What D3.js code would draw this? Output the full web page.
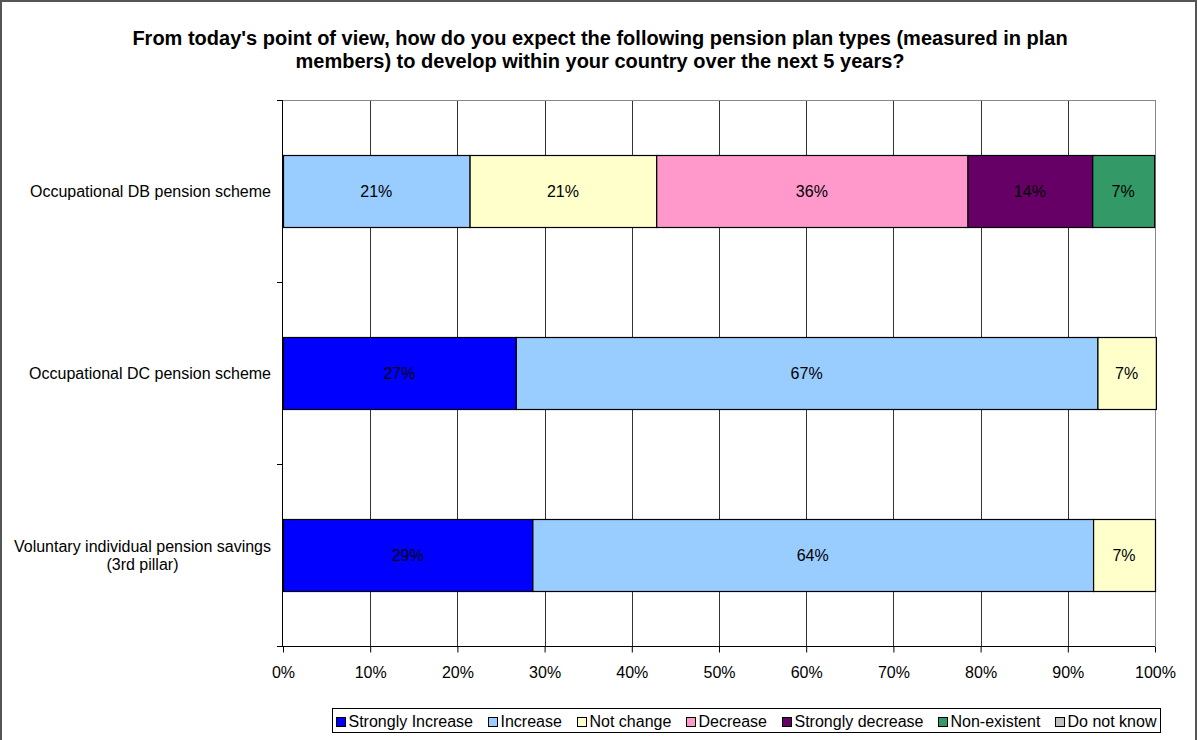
<!DOCTYPE html>
<html>
<head>
<meta charset="utf-8">
<script src="https://cdn.jsdelivr.net/npm/d3@7"></script>
<style>
  html, body { margin: 0; padding: 0; background: #fff; }
  svg { display: block; font-family: "Liberation Sans", Arial, sans-serif; }
</style>
</head>
<body>
<svg id="chart" width="1198" height="740"></svg>
<script>
// Plan types (top to bottom) and share of answers per expectation, in percent
const categories = [
  "Occupational DB pension scheme",
  "Occupational DC pension scheme",
  "Voluntary individual pension savings\n(3rd pillar)"
];
const seriesNames = ["Strongly Increase", "Increase", "Not change", "Decrease",
                     "Strongly decrease", "Non-existent", "Do not know"];
const stronglyIncrease = [0, 26.7, 28.6];
const increase         = [21.4, 66.7, 64.3];
const notChange        = [21.4, 6.7, 7.1];
const decrease         = [35.7, 0, 0];
const stronglyDecrease = [14.3, 0, 0];
const nonExistent      = [7.1, 0, 0];
const doNotKnow        = [0, 0, 0];
const xTicks = [0, 10, 20, 30, 40, 50, 60, 70, 80, 90, 100];
const seriesColors = ["#0000FF", "#99CCFF", "#FFFFCC", "#FF99CC", "#660066", "#339966", "#C0C0C0"];

const titleLines = [
  "From today's point of view, how do you expect the following pension plan types (measured in plan",
  "members) to develop within your country over the next 5 years?"
];

const seriesValues = [stronglyIncrease, increase, notChange, decrease, stronglyDecrease, nonExistent, doNotKnow];
const rows = categories.map((c, i) => {
  const r = { category: c };
  seriesNames.forEach((s, k) => { r[s] = seriesValues[k][i]; });
  return r;
});

const FS = 16;
const svg = d3.select("#chart");
const plot = { left: 283, right: 1155, top: 100, bottom: 646 };

// outer frame
svg.append("rect")
  .attr("x", 1).attr("y", 1).attr("width", 1195).attr("height", 760)
  .attr("fill", "none").attr("stroke", "#555").attr("stroke-width", 2);

// title
svg.append("g").selectAll("text").data(titleLines).join("text")
  .attr("x", 600).attr("y", (d, i) => 45 + i * 23)
  .attr("text-anchor", "middle")
  .attr("font-size", 20).attr("font-weight", "bold").attr("fill", "#000")
  .text(d => d);

const x = d3.scaleLinear().domain([0, 100]).range([plot.left, plot.right]);
const y = d3.scaleBand().domain(categories).range([plot.top, plot.bottom])
  .paddingInner(0.6044).paddingOuter(0.3022);

// vertical gridlines
svg.append("g").selectAll("line").data(xTicks.filter(t => t > 0)).join("line")
  .attr("x1", d => Math.round(x(d)) + 0.5).attr("x2", d => Math.round(x(d)) + 0.5)
  .attr("y1", plot.top).attr("y2", plot.bottom)
  .attr("stroke", d => d === 100 ? "#888" : "#333").attr("stroke-width", 1);

// top edge of plot area
svg.append("line")
  .attr("x1", plot.left).attr("x2", plot.right)
  .attr("y1", plot.top + 0.5).attr("y2", plot.top + 0.5)
  .attr("stroke", "#888");

// stacked bars
const stack = d3.stack().keys(seriesNames)(rows);
const layers = svg.append("g").selectAll("g").data(stack).join("g")
  .attr("fill", (d, i) => seriesColors[i]);

layers.selectAll("rect").data(d => d.filter(p => p[1] - p[0] > 0)).join("rect")
  .attr("x", d => x(d[0]) + 0.5)
  .attr("y", d => Math.round(y(d.data.category)) + 0.5)
  .attr("width", d => x(d[1]) - x(d[0]))
  .attr("height", Math.round(y.bandwidth()))
  .attr("stroke", "#000").attr("stroke-width", 1.2);

// value labels
layers.selectAll("text").data(d => d.filter(p => p[1] - p[0] > 0)).join("text")
  .attr("x", d => (x(d[0]) + x(d[1])) / 2)
  .attr("y", d => y(d.data.category) + y.bandwidth() / 2 + 6)
  .attr("text-anchor", "middle").attr("font-size", FS).attr("fill", "#000")
  .text(d => Math.round(d[1] - d[0]) + "%");

// category axis
const catAxis = svg.append("g");
catAxis.append("line")
  .attr("x1", plot.left - 0.5).attr("x2", plot.left - 0.5)
  .attr("y1", plot.top).attr("y2", plot.bottom)
  .attr("stroke", "#000");
const step = y.step();
const bounds = [plot.top].concat(categories.map(c => y(c) - step * y.paddingInner() / 2 + step));
catAxis.selectAll("line.tick").data(bounds).join("line").attr("class", "tick")
  .attr("x1", plot.left - 6).attr("x2", plot.left)
  .attr("y1", d => Math.round(d) + 0.5).attr("y2", d => Math.round(d) + 0.5)
  .attr("stroke", "#000");

// category labels: right-aligned block, multi-line text centred within it
categories.forEach(c => {
  const lines = c.split("\n");
  const g = catAxis.append("g");
  const texts = g.selectAll("text").data(lines).join("text")
    .attr("font-size", FS).attr("fill", "#000")
    .attr("text-anchor", "middle")
    .attr("y", (d, i) => y(c) + y.bandwidth() / 2 + 6 + (i - (lines.length - 1) / 2) * 18)
    .text(d => d);
  let w = 0;
  texts.each(function () { w = Math.max(w, this.getComputedTextLength()); });
  texts.attr("x", 271 - w / 2);
});

// value axis
const xAxis = svg.append("g")
  .attr("transform", `translate(0,${plot.bottom + 0.5})`)
  .call(d3.axisBottom(x).tickValues(xTicks).tickFormat(d => d + "%").tickSize(6).tickSizeOuter(0));
xAxis.select(".domain").attr("stroke", "#000").attr("d", `M${plot.left - 6},0H${plot.right}`);
xAxis.selectAll(".tick line").attr("stroke", "#000");
xAxis.selectAll(".tick text")
  .attr("font-family", "Liberation Sans, Arial, sans-serif")
  .attr("font-size", FS).attr("fill", "#000").attr("dy", null).attr("y", 31);

// legend: boxed row, items spread across the box
const box = { x: 332, y: 708, w: 828, h: 24 };
const legend = svg.append("g");
legend.append("rect")
  .attr("x", box.x + 0.5).attr("y", box.y + 0.5).attr("width", box.w).attr("height", box.h)
  .attr("fill", "#fff").attr("stroke", "#000");
const items = legend.selectAll("g.item").data(seriesNames).join("g").attr("class", "item");
items.append("rect").attr("y", -9).attr("width", 9).attr("height", 9)
  .attr("fill", (d, i) => seriesColors[i]).attr("stroke", "#000").attr("stroke-width", 1);
items.append("text").attr("x", 12).attr("y", 0)
  .attr("font-size", FS).attr("fill", "#000").text(d => d);
const widths = [];
items.each(function () { widths.push(12 + d3.select(this).select("text").node().getComputedTextLength()); });
const pad = 4;
const gap = (box.w - 2 * pad - d3.sum(widths)) / (widths.length - 1);
let cx = box.x + pad;
items.each(function (d, i) {
  d3.select(this).attr("transform", `translate(${Math.round(cx) + 0.5},${box.y + 18.5})`);
  cx += widths[i] + gap;
});
</script>
</body>
</html>
